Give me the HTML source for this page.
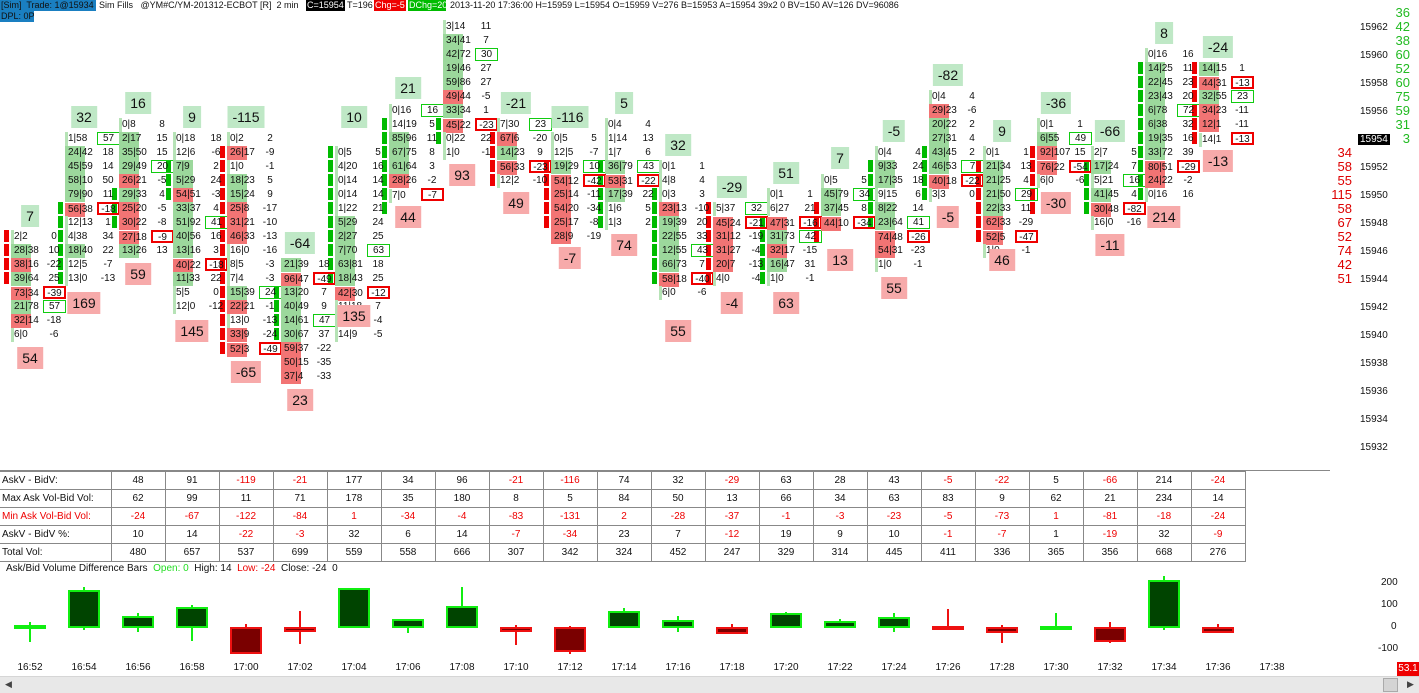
<!DOCTYPE html>
<html><head><meta charset="utf-8"><style>
*{box-sizing:border-box}
body{margin:0;width:1419px;height:693px;background:#fff;position:relative;overflow:hidden;font-family:"Liberation Sans",sans-serif;color:#111}
.a{position:absolute;white-space:nowrap}
.hd{position:absolute;top:0;height:11px;font-size:9px;line-height:11px;white-space:nowrap;padding:0 1px;overflow:hidden}
.f{position:absolute;width:56px;font-size:10px}
.f p{margin:0;height:14px;line-height:14px;white-space:nowrap;position:relative}
.f p span{display:inline-block;width:32px;padding-left:3px;background:linear-gradient(90deg,#b6e3b6 3px,transparent 3px)}
.f p.g span{background:linear-gradient(90deg,#9cd89c 62%,transparent 62%)}
.f p.r span{background:linear-gradient(90deg,#f27474 62%,transparent 62%)}
.f p em{font-style:normal;display:inline-block;width:22px;text-align:center;height:13px;line-height:12px}
.f p.x em{border:2px solid #e00;width:23px}
.f p.y em{border:1px solid #1c1;width:23px}
.h{position:absolute;height:22px;line-height:22px;font-size:14px;padding:0 5px;transform:translateX(-50%);background:#bfe8c6}
.l{background:#f7aaaa}
.c{position:absolute;width:5px}
.cg{background:repeating-linear-gradient(#0b0 0 12px,#fff 12px 14px)}
.cr{background:repeating-linear-gradient(#e00 0 12px,#fff 12px 14px)}
.ax{position:absolute;font-size:10px;left:1360px}
.gn{position:absolute;font-size:13px;color:#2b2;width:30px;text-align:right;left:1380px}
.rn{position:absolute;font-size:13px;color:#d00;width:30px;text-align:right;left:1322px}
table{position:absolute;left:0;top:471px;border-collapse:collapse;font-size:10px}
td{border:1px solid #888;height:18px;width:54px;text-align:center;padding:0;border-left:1px solid #888}
td:first-child{width:111px;text-align:left;padding-left:2px}
tr td:first-child{border-left:none}
.n{color:#e00}
.cd{position:absolute;width:32px;border:2px solid #1e1;background:#004400}
.cdr{border-color:#e11;background:#7a0000}
.wk{position:absolute;width:2px;background:#1e1}
.wr{background:#e11}
.tm{position:absolute;top:662px;font-size:10px;transform:translateX(-50%)}
</style></head><body>
<div class="hd" style="left:0;width:96px;background:#1a7fc1;color:#111">[Sim]&nbsp; Trade: 1@15934</div>
<div class="hd" style="left:98px;width:208px">Sim Fills&nbsp;&nbsp; @YM#C/YM-201312-ECBOT [R]&nbsp; 2 min&nbsp;&nbsp; #1</div>
<div class="hd" style="left:306px;width:39px;background:#000;color:#fff">C=15954</div>
<div class="hd" style="left:346px;width:28px">T=196</div>
<div class="hd" style="left:374px;width:32px;background:#e00;color:#fff">Chg=-5</div>
<div class="hd" style="left:408px;width:38px;background:#0b0;color:#fff">DChg=20</div>
<div class="hd" style="left:449px;width:450px">2013-11-20 17:36:00 H=15959 L=15954 O=15959 V=276 B=15953 A=15954 39x2 0 BV=150 AV=126 DV=96086</div>
<div class="hd" style="left:0;top:11px;width:34px;background:#1a7fc1">DPL: 0P</div>

<div class="c cr" style="left:4px;top:230px;height:56px"></div>
<div class="c cg" style="left:58px;top:202px;height:84px"></div>
<div class="c cg" style="left:112px;top:188px;height:42px"></div>
<div class="c cg" style="left:166px;top:160px;height:42px"></div>
<div class="c cr" style="left:220px;top:146px;height:210px"></div>
<div class="c cg" style="left:274px;top:286px;height:56px"></div>
<div class="c cg" style="left:328px;top:146px;height:140px"></div>
<div class="c cg" style="left:382px;top:118px;height:98px"></div>
<div class="c cg" style="left:436px;top:118px;height:28px"></div>
<div class="c cr" style="left:490px;top:132px;height:56px"></div>
<div class="c cr" style="left:544px;top:160px;height:70px"></div>
<div class="c cg" style="left:598px;top:160px;height:70px"></div>
<div class="c cg" style="left:652px;top:188px;height:98px"></div>
<div class="c cr" style="left:706px;top:202px;height:84px"></div>
<div class="c cg" style="left:760px;top:216px;height:70px"></div>
<div class="c cr" style="left:814px;top:202px;height:42px"></div>
<div class="c cg" style="left:868px;top:160px;height:70px"></div>
<div class="c cg" style="left:922px;top:146px;height:56px"></div>
<div class="c cr" style="left:976px;top:160px;height:84px"></div>
<div class="c cr" style="left:1030px;top:146px;height:70px"></div>
<div class="c cg" style="left:1084px;top:160px;height:56px"></div>
<div class="c cg" style="left:1138px;top:62px;height:140px"></div>
<div class="c cr" style="left:1192px;top:62px;height:84px"></div>

<div class="f" style="left:11px;top:230px"><p><span>2|2</span><em>0</em></p><p class="g"><span>28|38</span><em>10</em></p><p class="r"><span>38|16</span><em>-22</em></p><p class="g"><span>39|64</span><em>25</em></p><p class="r x"><span>73|34</span><em>-39</em></p><p class="g y"><span>21|78</span><em>57</em></p><p class="r"><span>32|14</span><em>-18</em></p><p><span>6|0</span><em>-6</em></p></div>
<div class="f" style="left:65px;top:132px"><p class="y"><span>1|58</span><em>57</em></p><p class="g"><span>24|42</span><em>18</em></p><p class="g"><span>45|59</span><em>14</em></p><p class="g"><span>58|10</span><em>50</em></p><p class="g"><span>79|90</span><em>11</em></p><p class="r x"><span>56|38</span><em>-18</em></p><p><span>12|13</span><em>1</em></p><p><span>4|38</span><em>34</em></p><p class="g"><span>18|40</span><em>22</em></p><p><span>12|5</span><em>-7</em></p><p><span>13|0</span><em>-13</em></p></div>
<div class="f" style="left:119px;top:118px"><p><span>0|8</span><em>8</em></p><p class="g"><span>2|17</span><em>15</em></p><p class="g"><span>35|50</span><em>15</em></p><p class="g y"><span>29|49</span><em>20</em></p><p class="r"><span>26|21</span><em>-5</em></p><p class="g"><span>29|33</span><em>4</em></p><p class="r"><span>25|20</span><em>-5</em></p><p class="r"><span>30|22</span><em>-8</em></p><p class="r x"><span>27|18</span><em>-9</em></p><p class="g"><span>13|26</span><em>13</em></p></div>
<div class="f" style="left:173px;top:132px"><p><span>0|18</span><em>18</em></p><p><span>12|6</span><em>-6</em></p><p class="g"><span>7|9</span><em>2</em></p><p class="g"><span>5|29</span><em>24</em></p><p class="r"><span>54|51</span><em>-3</em></p><p class="g"><span>33|37</span><em>4</em></p><p class="g y"><span>51|92</span><em>41</em></p><p class="g"><span>40|56</span><em>16</em></p><p class="g"><span>13|16</span><em>3</em></p><p class="r x"><span>40|22</span><em>-18</em></p><p class="g"><span>11|33</span><em>22</em></p><p><span>5|5</span><em>0</em></p><p><span>12|0</span><em>-12</em></p></div>
<div class="f" style="left:227px;top:132px"><p><span>0|2</span><em>2</em></p><p class="r"><span>26|17</span><em>-9</em></p><p><span>1|0</span><em>-1</em></p><p class="g"><span>18|23</span><em>5</em></p><p class="g"><span>15|24</span><em>9</em></p><p class="r"><span>25|8</span><em>-17</em></p><p class="r"><span>31|21</span><em>-10</em></p><p class="r"><span>46|33</span><em>-13</em></p><p><span>16|0</span><em>-16</em></p><p><span>8|5</span><em>-3</em></p><p><span>7|4</span><em>-3</em></p><p class="g y"><span>15|39</span><em>24</em></p><p class="r"><span>22|21</span><em>-1</em></p><p><span>13|0</span><em>-13</em></p><p class="r"><span>33|9</span><em>-24</em></p><p class="r x"><span>52|3</span><em>-49</em></p></div>
<div class="f" style="left:281px;top:258px"><p class="g"><span>21|39</span><em>18</em></p><p class="r x"><span>96|47</span><em>-49</em></p><p class="g"><span>13|20</span><em>7</em></p><p class="g"><span>40|49</span><em>9</em></p><p class="g y"><span>14|61</span><em>47</em></p><p class="g"><span>30|67</span><em>37</em></p><p class="r"><span>59|37</span><em>-22</em></p><p class="r"><span>50|15</span><em>-35</em></p><p class="r"><span>37|4</span><em>-33</em></p></div>
<div class="f" style="left:335px;top:146px"><p><span>0|5</span><em>5</em></p><p><span>4|20</span><em>16</em></p><p><span>0|14</span><em>14</em></p><p><span>0|14</span><em>14</em></p><p><span>1|22</span><em>21</em></p><p class="g"><span>5|29</span><em>24</em></p><p class="g"><span>2|27</span><em>25</em></p><p class="g y"><span>7|70</span><em>63</em></p><p class="g"><span>63|81</span><em>18</em></p><p class="g"><span>18|43</span><em>25</em></p><p class="r x"><span>42|30</span><em>-12</em></p><p><span>11|18</span><em>7</em></p><p><span>13|7</span><em>-4</em></p><p><span>14|9</span><em>-5</em></p></div>
<div class="f" style="left:389px;top:104px"><p class="y"><span>0|16</span><em>16</em></p><p><span>14|19</span><em>5</em></p><p class="g"><span>85|96</span><em>11</em></p><p class="g"><span>67|75</span><em>8</em></p><p class="g"><span>61|64</span><em>3</em></p><p class="r"><span>28|26</span><em>-2</em></p><p class="x"><span>7|0</span><em>-7</em></p></div>
<div class="f" style="left:443px;top:20px"><p><span>3|14</span><em>11</em></p><p class="g"><span>34|41</span><em>7</em></p><p class="g y"><span>42|72</span><em>30</em></p><p class="g"><span>19|46</span><em>27</em></p><p class="g"><span>59|86</span><em>27</em></p><p class="r"><span>49|44</span><em>-5</em></p><p class="g"><span>33|34</span><em>1</em></p><p class="r x"><span>45|22</span><em>-23</em></p><p><span>0|22</span><em>22</em></p><p><span>1|0</span><em>-1</em></p></div>
<div class="f" style="left:497px;top:118px"><p class="y"><span>7|30</span><em>23</em></p><p class="r"><span>67|6</span><em>-20</em></p><p class="g"><span>14|23</span><em>9</em></p><p class="r x"><span>56|33</span><em>-23</em></p><p><span>12|2</span><em>-10</em></p></div>
<div class="f" style="left:551px;top:132px"><p><span>0|5</span><em>5</em></p><p><span>12|5</span><em>-7</em></p><p class="g y"><span>19|29</span><em>10</em></p><p class="r x"><span>54|12</span><em>-42</em></p><p class="r"><span>25|14</span><em>-11</em></p><p class="r"><span>54|20</span><em>-34</em></p><p class="r"><span>25|17</span><em>-8</em></p><p class="r"><span>28|9</span><em>-19</em></p></div>
<div class="f" style="left:605px;top:118px"><p><span>0|4</span><em>4</em></p><p><span>1|14</span><em>13</em></p><p><span>1|7</span><em>6</em></p><p class="g y"><span>36|79</span><em>43</em></p><p class="r x"><span>53|31</span><em>-22</em></p><p class="g"><span>17|39</span><em>22</em></p><p><span>1|6</span><em>5</em></p><p><span>1|3</span><em>2</em></p></div>
<div class="f" style="left:659px;top:160px"><p><span>0|1</span><em>1</em></p><p><span>4|8</span><em>4</em></p><p><span>0|3</span><em>3</em></p><p class="r"><span>23|13</span><em>-10</em></p><p class="g"><span>19|39</span><em>20</em></p><p class="g"><span>22|55</span><em>33</em></p><p class="g y"><span>12|55</span><em>43</em></p><p class="g"><span>66|73</span><em>7</em></p><p class="r x"><span>58|18</span><em>-40</em></p><p><span>6|0</span><em>-6</em></p></div>
<div class="f" style="left:713px;top:202px"><p class="y"><span>5|37</span><em>32</em></p><p class="r x"><span>45|24</span><em>-21</em></p><p class="r"><span>31|12</span><em>-19</em></p><p class="r"><span>31|27</span><em>-4</em></p><p class="r"><span>20|7</span><em>-13</em></p><p><span>4|0</span><em>-4</em></p></div>
<div class="f" style="left:767px;top:188px"><p><span>0|1</span><em>1</em></p><p><span>6|27</span><em>21</em></p><p class="r x"><span>47|31</span><em>-16</em></p><p class="g y"><span>31|73</span><em>42</em></p><p class="r"><span>32|17</span><em>-15</em></p><p class="g"><span>16|47</span><em>31</em></p><p><span>1|0</span><em>-1</em></p></div>
<div class="f" style="left:821px;top:174px"><p><span>0|5</span><em>5</em></p><p class="g y"><span>45|79</span><em>34</em></p><p class="g"><span>37|45</span><em>8</em></p><p class="r x"><span>44|10</span><em>-34</em></p></div>
<div class="f" style="left:875px;top:146px"><p><span>0|4</span><em>4</em></p><p class="g"><span>9|33</span><em>24</em></p><p class="g"><span>17|35</span><em>18</em></p><p><span>9|15</span><em>6</em></p><p class="g"><span>8|22</span><em>14</em></p><p class="g y"><span>23|64</span><em>41</em></p><p class="r x"><span>74|48</span><em>-26</em></p><p class="r"><span>54|31</span><em>-23</em></p><p><span>1|0</span><em>-1</em></p></div>
<div class="f" style="left:929px;top:90px"><p><span>0|4</span><em>4</em></p><p class="r"><span>29|23</span><em>-6</em></p><p class="g"><span>20|22</span><em>2</em></p><p class="g"><span>27|31</span><em>4</em></p><p class="g"><span>43|45</span><em>2</em></p><p class="g y"><span>46|53</span><em>7</em></p><p class="r x"><span>40|18</span><em>-22</em></p><p><span>3|3</span><em>0</em></p></div>
<div class="f" style="left:983px;top:146px"><p><span>0|1</span><em>1</em></p><p class="g"><span>21|34</span><em>13</em></p><p class="g"><span>21|25</span><em>4</em></p><p class="g y"><span>21|50</span><em>29</em></p><p class="g"><span>22|33</span><em>11</em></p><p class="r"><span>62|33</span><em>-29</em></p><p class="r x"><span>52|5</span><em>-47</em></p><p><span>1|0</span><em>-1</em></p></div>
<div class="f" style="left:1037px;top:118px"><p><span>0|1</span><em>1</em></p><p class="g y"><span>6|55</span><em>49</em></p><p class="r"><span>92|107</span><em>15</em></p><p class="r x"><span>76|22</span><em>-54</em></p><p><span>6|0</span><em>-6</em></p></div>
<div class="f" style="left:1091px;top:146px"><p><span>2|7</span><em>5</em></p><p class="g"><span>17|24</span><em>7</em></p><p class="y"><span>5|21</span><em>16</em></p><p class="g"><span>41|45</span><em>4</em></p><p class="r x"><span>30|48</span><em>-82</em></p><p><span>16|0</span><em>-16</em></p></div>
<div class="f" style="left:1145px;top:48px"><p><span>0|16</span><em>16</em></p><p class="g"><span>14|25</span><em>11</em></p><p class="g"><span>22|45</span><em>23</em></p><p class="g"><span>23|43</span><em>20</em></p><p class="g y"><span>6|78</span><em>72</em></p><p class="g"><span>6|38</span><em>32</em></p><p class="g"><span>19|35</span><em>16</em></p><p class="g"><span>33|72</span><em>39</em></p><p class="r x"><span>80|51</span><em>-29</em></p><p class="r"><span>24|22</span><em>-2</em></p><p><span>0|16</span><em>16</em></p></div>
<div class="f" style="left:1199px;top:62px"><p class="g"><span>14|15</span><em>1</em></p><p class="r x"><span>44|31</span><em>-13</em></p><p class="g y"><span>32|55</span><em>23</em></p><p class="r"><span>34|23</span><em>-11</em></p><p class="r"><span>12|1</span><em>-11</em></p><p class="x"><span>14|1</span><em>-13</em></p></div>

<div class="h" style="left:30px;top:205px">7</div><div class="h l" style="left:30px;top:347px">54</div>
<div class="h" style="left:84px;top:106px">32</div><div class="h l" style="left:84px;top:292px">169</div>
<div class="h" style="left:138px;top:92px">16</div><div class="h l" style="left:138px;top:263px">59</div>
<div class="h" style="left:192px;top:106px">9</div><div class="h l" style="left:192px;top:320px">145</div>
<div class="h" style="left:246px;top:106px">-115</div><div class="h l" style="left:246px;top:361px">-65</div>
<div class="h" style="left:300px;top:232px">-64</div><div class="h l" style="left:300px;top:389px">23</div>
<div class="h" style="left:354px;top:106px">10</div><div class="h l" style="left:354px;top:305px">135</div>
<div class="h" style="left:408px;top:77px">21</div><div class="h l" style="left:408px;top:206px">44</div>
<div class="h l" style="left:462px;top:164px">93</div>
<div class="h" style="left:516px;top:92px">-21</div><div class="h l" style="left:516px;top:192px">49</div>
<div class="h" style="left:570px;top:106px">-116</div><div class="h l" style="left:570px;top:247px">-7</div>
<div class="h" style="left:624px;top:92px">5</div><div class="h l" style="left:624px;top:234px">74</div>
<div class="h" style="left:678px;top:134px">32</div><div class="h l" style="left:678px;top:320px">55</div>
<div class="h" style="left:732px;top:176px">-29</div><div class="h l" style="left:732px;top:292px">-4</div>
<div class="h" style="left:786px;top:162px">51</div><div class="h l" style="left:786px;top:292px">63</div>
<div class="h" style="left:840px;top:147px">7</div><div class="h l" style="left:840px;top:249px">13</div>
<div class="h" style="left:894px;top:120px">-5</div><div class="h l" style="left:894px;top:277px">55</div>
<div class="h" style="left:948px;top:64px">-82</div><div class="h l" style="left:948px;top:206px">-5</div>
<div class="h" style="left:1002px;top:120px">9</div><div class="h l" style="left:1002px;top:249px">46</div>
<div class="h" style="left:1056px;top:92px">-36</div><div class="h l" style="left:1056px;top:192px">-30</div>
<div class="h" style="left:1110px;top:120px">-66</div><div class="h l" style="left:1110px;top:234px">-11</div>
<div class="h" style="left:1164px;top:22px">8</div><div class="h l" style="left:1164px;top:206px">214</div>
<div class="h" style="left:1218px;top:36px">-24</div><div class="h l" style="left:1218px;top:150px">-13</div>

<div class="ax" style="top:22px">15962</div><div class="ax" style="top:50px">15960</div><div class="ax" style="top:78px">15958</div><div class="ax" style="top:106px">15956</div>
<div class="ax" style="top:134px;background:#000;color:#fff;left:1358px;padding:0 2px">15954</div>
<div class="ax" style="top:162px">15952</div><div class="ax" style="top:190px">15950</div><div class="ax" style="top:218px">15948</div><div class="ax" style="top:246px">15946</div><div class="ax" style="top:274px">15944</div><div class="ax" style="top:302px">15942</div><div class="ax" style="top:330px">15940</div><div class="ax" style="top:358px">15938</div><div class="ax" style="top:386px">15936</div><div class="ax" style="top:414px">15934</div><div class="ax" style="top:442px">15932</div>
<div class="gn" style="top:5px">36</div><div class="gn" style="top:19px">42</div><div class="gn" style="top:33px">38</div><div class="gn" style="top:47px">60</div><div class="gn" style="top:61px">52</div><div class="gn" style="top:75px">60</div><div class="gn" style="top:89px">75</div><div class="gn" style="top:103px">59</div><div class="gn" style="top:117px">31</div><div class="gn" style="top:131px">3</div>
<div class="rn" style="top:145px">34</div><div class="rn" style="top:159px">58</div><div class="rn" style="top:173px">55</div><div class="rn" style="top:187px">115</div><div class="rn" style="top:201px">58</div><div class="rn" style="top:215px">67</div><div class="rn" style="top:229px">52</div><div class="rn" style="top:243px">74</div><div class="rn" style="top:257px">42</div><div class="rn" style="top:271px">51</div>

<div class="a" style="left:0;top:470px;width:1330px;border-top:1px solid #888"></div>
<table>
<tr><td>AskV - BidV:</td><td>48</td><td>91</td><td class="n">-119</td><td class="n">-21</td><td>177</td><td>34</td><td>96</td><td class="n">-21</td><td class="n">-116</td><td>74</td><td>32</td><td class="n">-29</td><td>63</td><td>28</td><td>43</td><td class="n">-5</td><td class="n">-22</td><td>5</td><td class="n">-66</td><td>214</td><td class="n">-24</td></tr>
<tr><td>Max Ask Vol-Bid Vol:</td><td>62</td><td>99</td><td>11</td><td>71</td><td>178</td><td>35</td><td>180</td><td>8</td><td>5</td><td>84</td><td>50</td><td>13</td><td>66</td><td>34</td><td>63</td><td>83</td><td>9</td><td>62</td><td>21</td><td>234</td><td>14</td></tr>
<tr class="n"><td>Min Ask Vol-Bid Vol:</td><td>-24</td><td>-67</td><td>-122</td><td>-84</td><td>1</td><td>-34</td><td>-4</td><td>-83</td><td>-131</td><td>2</td><td>-28</td><td>-37</td><td>-1</td><td>-3</td><td>-23</td><td>-5</td><td>-73</td><td>1</td><td>-81</td><td>-18</td><td>-24</td></tr>
<tr><td>AskV - BidV %:</td><td>10</td><td>14</td><td class="n">-22</td><td class="n">-3</td><td>32</td><td>6</td><td>14</td><td class="n">-7</td><td class="n">-34</td><td>23</td><td>7</td><td class="n">-12</td><td>19</td><td>9</td><td>10</td><td class="n">-1</td><td class="n">-7</td><td>1</td><td class="n">-19</td><td>32</td><td class="n">-9</td></tr>
<tr><td>Total Vol:</td><td>480</td><td>657</td><td>537</td><td>699</td><td>559</td><td>558</td><td>666</td><td>307</td><td>342</td><td>324</td><td>452</td><td>247</td><td>329</td><td>314</td><td>445</td><td>411</td><td>336</td><td>365</td><td>356</td><td>668</td><td>276</td></tr>
</table>

<div class="a" style="left:6px;top:563px;font-size:10px">Ask/Bid Volume Difference Bars&nbsp; <span style="color:#2d2">Open: 0</span>&nbsp; High: 14&nbsp; <span style="color:#e00">Low: -24</span>&nbsp; Close: -24&nbsp; 0</div>

<div class="wk" style="left:29px;top:622px;height:20px"></div><div class="cd" style="left:14px;top:625px;height:4px"></div>
<div class="wk" style="left:83px;top:587px;height:43px"></div><div class="cd" style="left:68px;top:590px;height:38px"></div>
<div class="wk" style="left:137px;top:613px;height:19px"></div><div class="cd" style="left:122px;top:616px;height:12px"></div>
<div class="wk" style="left:191px;top:605px;height:36px"></div><div class="cd" style="left:176px;top:607px;height:21px"></div>
<div class="wk wr" style="left:245px;top:624px;height:6px"></div><div class="cd cdr" style="left:230px;top:627px;height:27px"></div>
<div class="wk wr" style="left:299px;top:611px;height:33px"></div><div class="cd cdr" style="left:284px;top:627px;height:5px"></div>
<div class="cd" style="left:338px;top:588px;height:40px"></div>
<div class="wk" style="left:407px;top:620px;height:13px"></div><div class="cd" style="left:392px;top:619px;height:9px"></div>
<div class="wk" style="left:461px;top:587px;height:20px"></div><div class="cd" style="left:446px;top:606px;height:22px"></div>
<div class="wk wr" style="left:515px;top:625px;height:20px"></div><div class="cd cdr" style="left:500px;top:627px;height:5px"></div>
<div class="wk wr" style="left:569px;top:626px;height:28px"></div><div class="cd cdr" style="left:554px;top:627px;height:25px"></div>
<div class="wk" style="left:623px;top:608px;height:6px"></div><div class="cd" style="left:608px;top:611px;height:17px"></div>
<div class="wk" style="left:677px;top:616px;height:16px"></div><div class="cd" style="left:662px;top:620px;height:8px"></div>
<div class="wk wr" style="left:731px;top:624px;height:10px"></div><div class="cd cdr" style="left:716px;top:627px;height:7px"></div>
<div class="wk" style="left:785px;top:612px;height:4px"></div><div class="cd" style="left:770px;top:613px;height:15px"></div>
<div class="wk" style="left:839px;top:619px;height:4px"></div><div class="cd" style="left:824px;top:621px;height:7px"></div>
<div class="wk" style="left:893px;top:613px;height:19px"></div><div class="cd" style="left:878px;top:617px;height:11px"></div>
<div class="wk wr" style="left:947px;top:609px;height:18px"></div><div class="cd cdr" style="left:932px;top:626px;height:3px;background:#e11"></div>
<div class="wk wr" style="left:1001px;top:625px;height:18px"></div><div class="cd cdr" style="left:986px;top:627px;height:6px"></div>
<div class="wk" style="left:1055px;top:613px;height:14px"></div><div class="cd" style="left:1040px;top:626px;height:3px;background:#1e1"></div>
<div class="wk wr" style="left:1109px;top:622px;height:21px"></div><div class="cd cdr" style="left:1094px;top:627px;height:15px"></div>
<div class="wk" style="left:1163px;top:576px;height:54px"></div><div class="cd" style="left:1148px;top:580px;height:48px"></div>
<div class="wk wr" style="left:1217px;top:624px;height:4px"></div><div class="cd cdr" style="left:1202px;top:627px;height:6px"></div>

<div class="a" style="left:1381px;top:577px;font-size:10px">200</div>
<div class="a" style="left:1381px;top:599px;font-size:10px">100</div>
<div class="a" style="left:1391px;top:621px;font-size:10px">0</div>
<div class="a" style="left:1378px;top:643px;font-size:10px">-100</div>

<div class="tm" style="left:30px">16:52</div><div class="tm" style="left:84px">16:54</div><div class="tm" style="left:138px">16:56</div><div class="tm" style="left:192px">16:58</div><div class="tm" style="left:246px">17:00</div><div class="tm" style="left:300px">17:02</div><div class="tm" style="left:354px">17:04</div><div class="tm" style="left:408px">17:06</div><div class="tm" style="left:462px">17:08</div><div class="tm" style="left:516px">17:10</div><div class="tm" style="left:570px">17:12</div><div class="tm" style="left:624px">17:14</div><div class="tm" style="left:678px">17:16</div><div class="tm" style="left:732px">17:18</div><div class="tm" style="left:786px">17:20</div><div class="tm" style="left:840px">17:22</div><div class="tm" style="left:894px">17:24</div><div class="tm" style="left:948px">17:26</div><div class="tm" style="left:1002px">17:28</div><div class="tm" style="left:1056px">17:30</div><div class="tm" style="left:1110px">17:32</div><div class="tm" style="left:1164px">17:34</div><div class="tm" style="left:1218px">17:36</div><div class="tm" style="left:1272px">17:38</div>
<div class="a" style="left:1397px;top:662px;width:22px;height:14px;background:#e00;color:#fff;font-size:10px;line-height:14px;text-align:center">53.1</div>

<div class="a" style="left:0;top:676px;width:1419px;height:17px;background:#e8e8e8;border-top:1px solid #d6d6d6"></div>
<div class="a" style="left:5px;top:679px;font-size:9px;color:#444">◀</div>
<div class="a" style="left:1383px;top:678px;width:15px;height:14px;background:#d4d4d4;border:1px solid #aaa"></div>
<div class="a" style="left:1407px;top:679px;font-size:9px;color:#444">▶</div>
</body></html>
